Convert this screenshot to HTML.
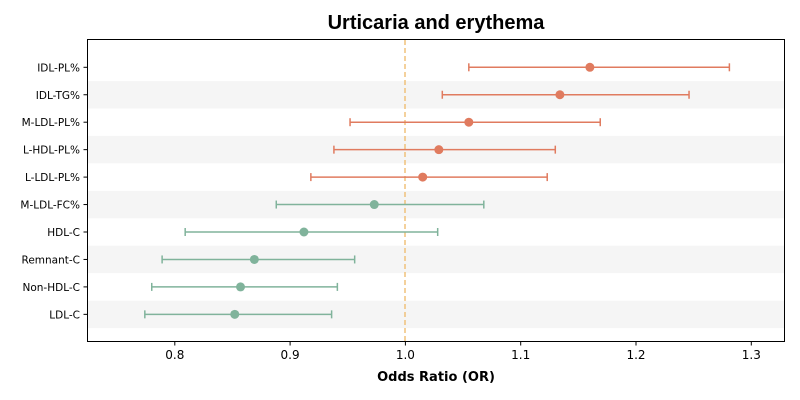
<!DOCTYPE html>
<html><head><meta charset="utf-8"><style>
body{margin:0;background:#fff}
svg{display:block;font-family:"DejaVu Sans","Liberation Sans",sans-serif}
</style></head><body>
<svg id="chart" width="800" height="400">
<text x="436" y="29" text-anchor="middle" font-size="20" font-weight="bold" font-family="Liberation Sans, sans-serif">Urticaria and erythema</text>
<g id="stripes"></g>
<line x1="405" y1="40" x2="405" y2="341" stroke="#F0C27B" stroke-width="1.5" stroke-dasharray="5,3"/>
<g id="marks"></g>
<rect x="87.5" y="39.5" width="697" height="302" fill="none" stroke="#000" stroke-width="1"/>
<g id="axes" font-size="10.5"></g>
<text x="436" y="381" text-anchor="middle" font-size="13" font-weight="bold">Odds Ratio (OR)</text>
</svg>
<script>
const labels=["IDL-PL%","IDL-TG%","M-LDL-PL%","L-HDL-PL%","L-LDL-PL%","M-LDL-FC%","HDL-C","Remnant-C","Non-HDL-C","LDL-C"];
const orValues=[1.160,1.134,1.055,1.029,1.015,0.973,0.912,0.869,0.857,0.852];
const lower=[1.055,1.032,0.952,0.938,0.918,0.888,0.809,0.789,0.780,0.774];
const upper=[1.281,1.246,1.169,1.130,1.123,1.068,1.028,0.956,0.941,0.936];
const xTicks=[0.8,0.9,1.0,1.1,1.2,1.3];
const xTickLabels=["0.8","0.9","1.0","1.1","1.2","1.3"];
const NS="http://www.w3.org/2000/svg";
const xs=v=>174.8+(v-0.8)*1153;
const ys=i=>67.3+i*27.45;
function mk(tag,attrs,parent){const e=document.createElementNS(NS,tag);for(const k in attrs)e.setAttribute(k,attrs[k]);parent.appendChild(e);return e;}
const st=document.getElementById('stripes'),mg=document.getElementById('marks'),ax=document.getElementById('axes');
labels.forEach((l,i)=>{
  if(i%2===1){const r=mk('rect',{x:88,y:ys(i)-13.7,width:696,height:27.4,fill:'#f5f5f5'},st);
    
    }
  const c=orValues[i]>1?'#E07B5F':'#80B39B';
  const y=ys(i);
  const g=mk('g',{},mg);
  
  
  mk('line',{x1:xs(lower[i]),x2:xs(upper[i]),y1:y,y2:y,stroke:c,'stroke-width':1.5},g);
  mk('line',{x1:xs(lower[i]),x2:xs(lower[i]),y1:y-4,y2:y+4,stroke:c,'stroke-width':1.5},g);
  mk('line',{x1:xs(upper[i]),x2:xs(upper[i]),y1:y-4,y2:y+4,stroke:c,'stroke-width':1.5},g);
  mk('circle',{cx:xs(orValues[i]),cy:y,r:4.5,fill:c},g);
  mk('line',{x1:83.5,x2:87.5,y1:y,y2:y,stroke:'#000'},ax);
  const t=mk('text',{x:80,y:y+4,'text-anchor':'end'},ax);t.textContent=l;
  
  
});
xTicks.forEach((v,i)=>{
  mk('line',{x1:xs(v),x2:xs(v),y1:341.5,y2:345.5,stroke:'#000'},ax);
  const t=mk('text',{x:xs(v),y:359,'text-anchor':'middle','font-size':12},ax);t.textContent=xTickLabels[i];
  
  
});
</script>
</body></html>
